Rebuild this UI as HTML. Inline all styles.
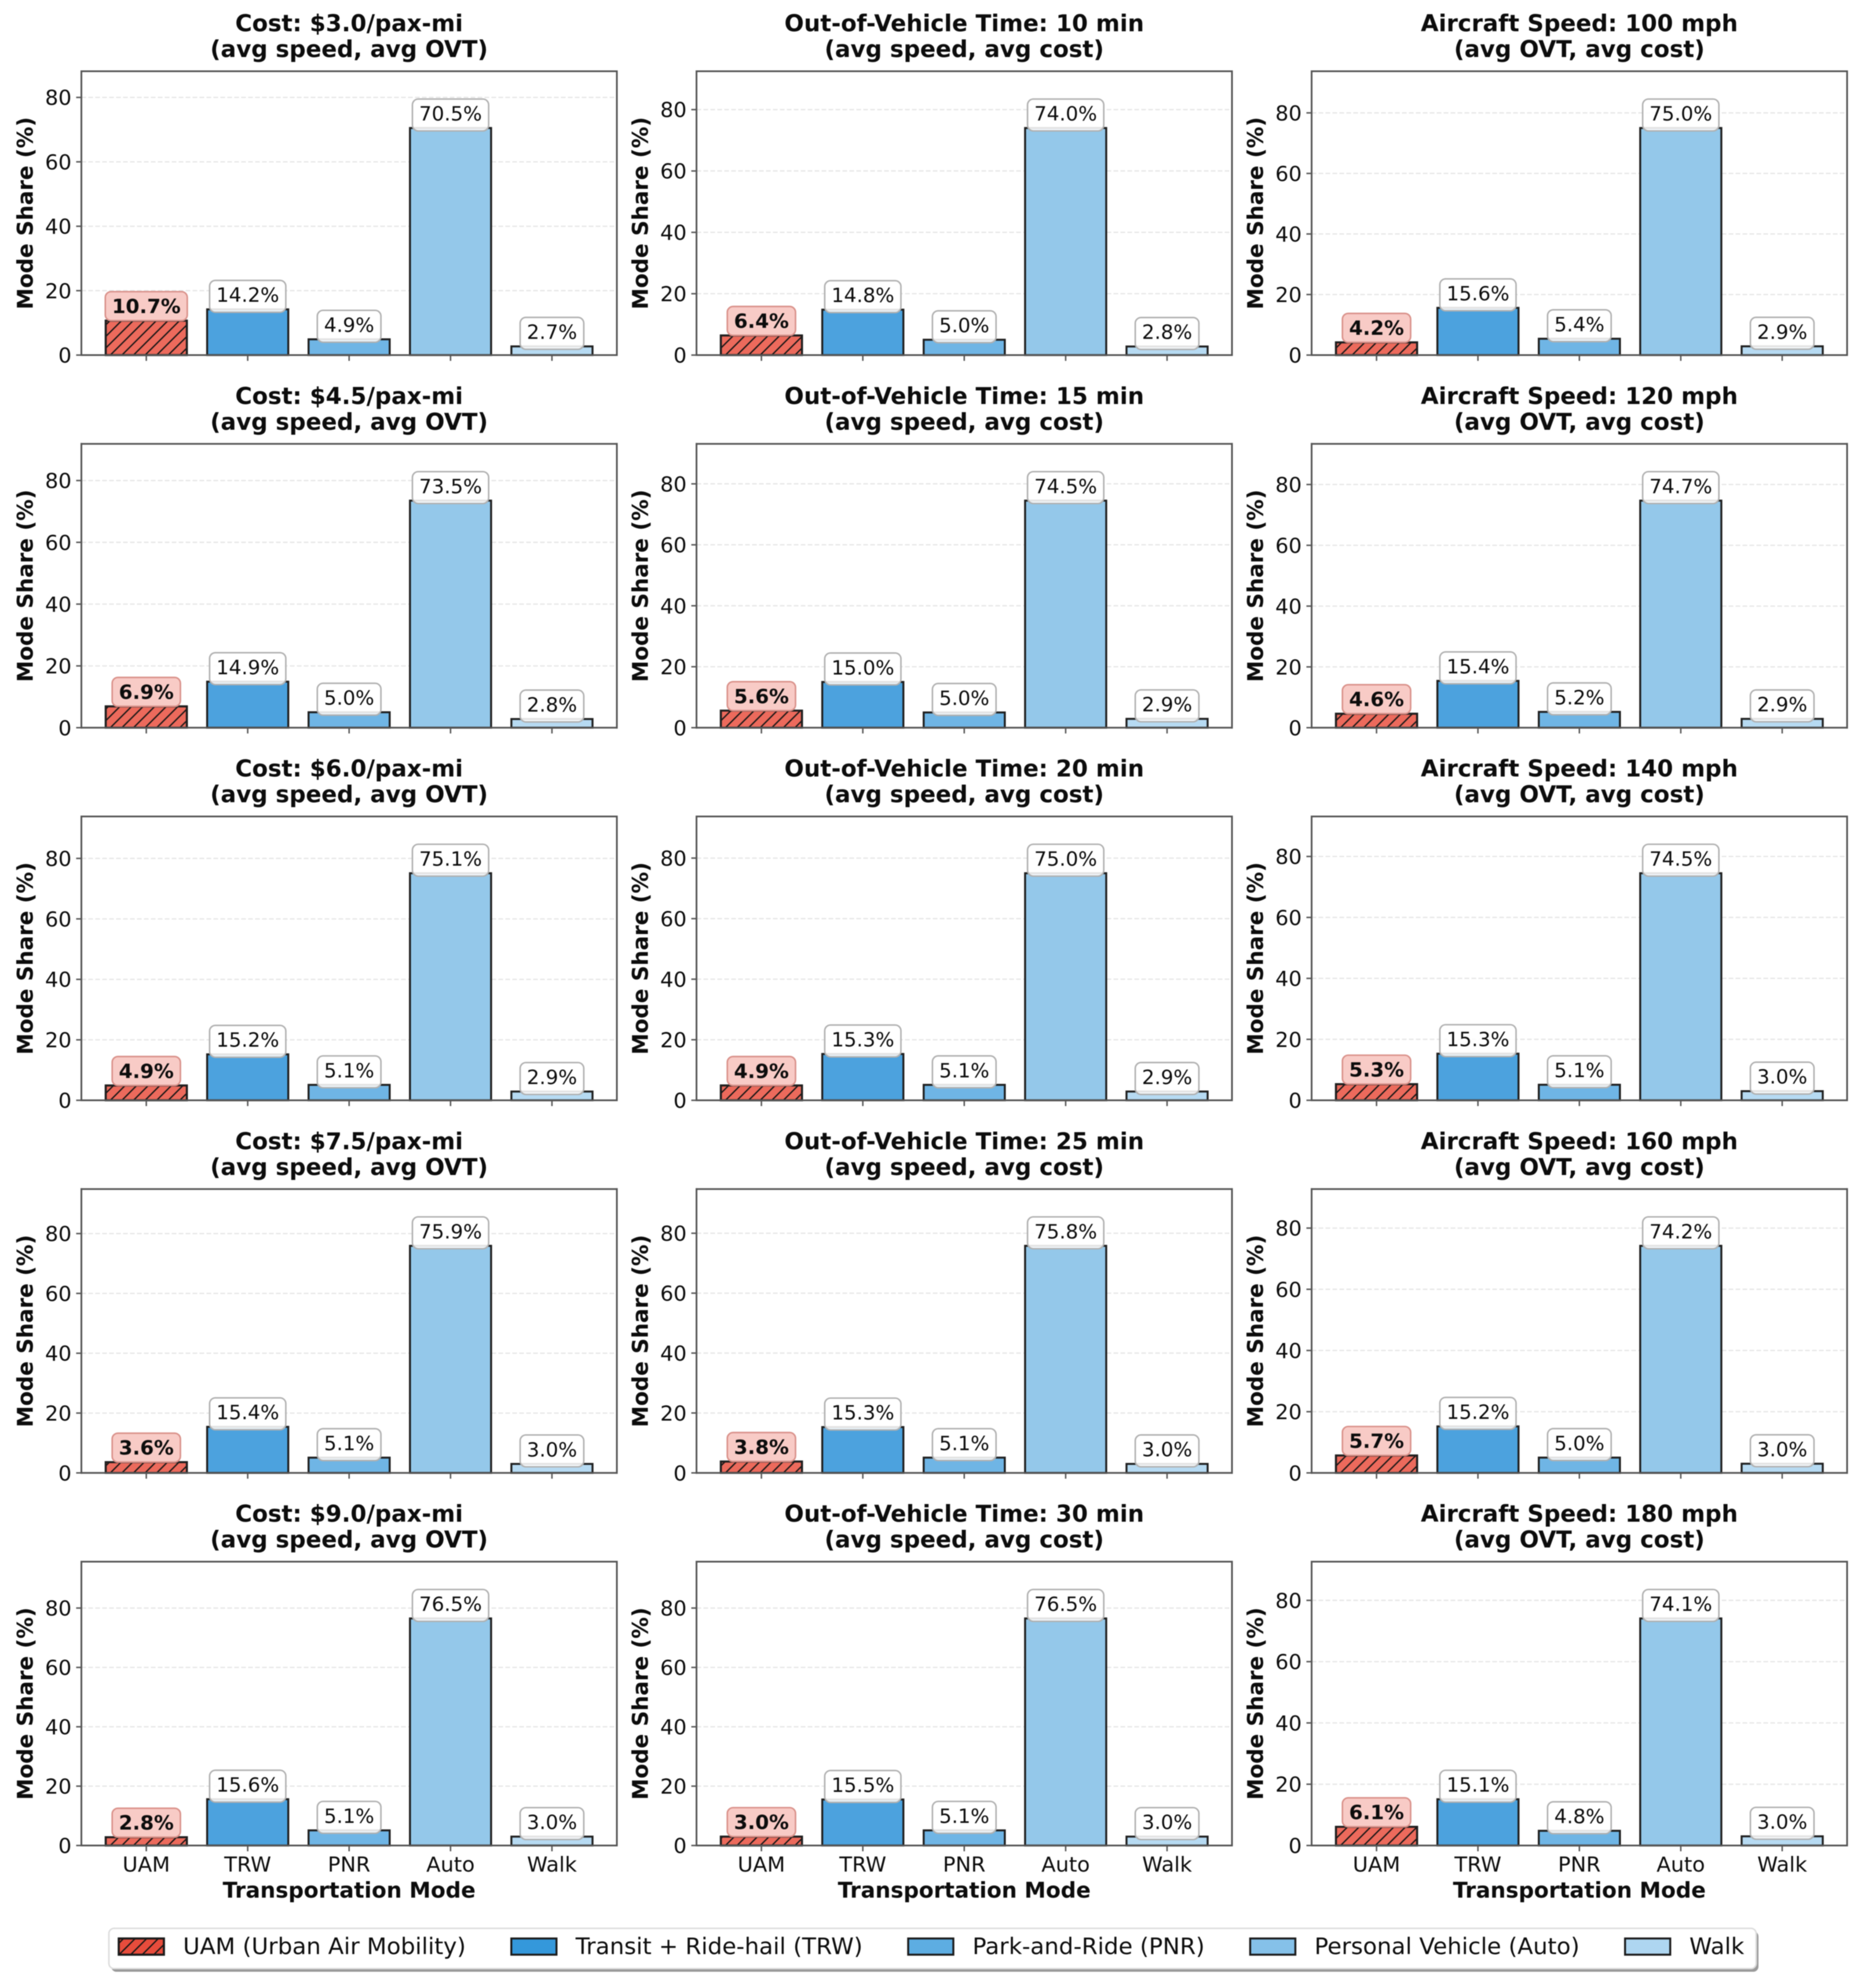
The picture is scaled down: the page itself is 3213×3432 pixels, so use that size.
<!DOCTYPE html>
<html lang="en">
<head>
<meta charset="utf-8">
<title>Mode Share Sensitivity</title>
<style>
  html, body { margin: 0; padding: 0; background: #fff; }
  svg { display: block; font-family: "DejaVu Sans", "Liberation Sans", sans-serif; filter: blur(0.9px); }
  text { fill: #0c0c0c; }
</style>
</head>
<body>
<svg id="chart" xmlns="http://www.w3.org/2000/svg" width="3213" height="3432" viewBox="0 0 3213 3432">
  <defs>
    <pattern id="hatch-bar" patternUnits="userSpaceOnUse" width="20" height="20">
      <line x1="-5" y1="25" x2="25" y2="-5" stroke="#151515" stroke-width="2.3"/>
      <line x1="-5" y1="5" x2="5" y2="-5" stroke="#151515" stroke-width="2.3"/>
      <line x1="15" y1="25" x2="25" y2="15" stroke="#151515" stroke-width="2.3"/>
    </pattern>
  </defs>
</svg>
<script>
// ---- chart data ----
const categories = ["UAM", "TRW", "PNR", "Auto", "Walk"];
const legendLabels = ["UAM (Urban Air Mobility)", "Transit + Ride-hail (TRW)", "Park-and-Ride (PNR)", "Personal Vehicle (Auto)", "Walk"];
const yTicks = [0, 20, 40, 60, 80];
const columnSubtitles = ["(avg speed, avg OVT)", "(avg speed, avg cost)", "(avg OVT, avg cost)"];
const costTitles = ["Cost: $3.0/pax-mi", "Cost: $4.5/pax-mi", "Cost: $6.0/pax-mi", "Cost: $7.5/pax-mi", "Cost: $9.0/pax-mi"];
const ovtTitles = ["Out-of-Vehicle Time: 10 min", "Out-of-Vehicle Time: 15 min", "Out-of-Vehicle Time: 20 min", "Out-of-Vehicle Time: 25 min", "Out-of-Vehicle Time: 30 min"];
const speedTitles = ["Aircraft Speed: 100 mph", "Aircraft Speed: 120 mph", "Aircraft Speed: 140 mph", "Aircraft Speed: 160 mph", "Aircraft Speed: 180 mph"];
const costShares = [
  [10.7, 14.2, 4.9, 70.5, 2.7],
  [6.9, 14.9, 5.0, 73.5, 2.8],
  [4.9, 15.2, 5.1, 75.1, 2.9],
  [3.6, 15.4, 5.1, 75.9, 3.0],
  [2.8, 15.6, 5.1, 76.5, 3.0]
];
const ovtShares = [
  [6.4, 14.8, 5.0, 74.0, 2.8],
  [5.6, 15.0, 5.0, 74.5, 2.9],
  [4.9, 15.3, 5.1, 75.0, 2.9],
  [3.8, 15.3, 5.1, 75.8, 3.0],
  [3.0, 15.5, 5.1, 76.5, 3.0]
];
const speedShares = [
  [4.2, 15.6, 5.4, 75.0, 2.9],
  [4.6, 15.4, 5.2, 74.7, 2.9],
  [5.3, 15.3, 5.1, 74.5, 3.0],
  [5.7, 15.2, 5.0, 74.2, 3.0],
  [6.1, 15.1, 4.8, 74.1, 3.0]
];

// ---- styling and layout ----
const barFills = ["#ec6a5c", "#4ca2de", "#6fb5e5", "#94c8ea", "#b6daf2"];
const legendFills = ["#e74c3c", "#3498db", "#5dade2", "#85c1e9", "#aed6f1"];
const columnTitles = [costTitles, ovtTitles, speedTitles];
const columnShares = [costShares, ovtShares, speedShares];
const AX_W = 924.5, AX_H = 490, AX_LEFT = 140.5, AX_TOP = 123, COL_STEP = 1062, ROW_STEP = 643.25;
const SVG_NS = "http://www.w3.org/2000/svg";
const svg = document.getElementById("chart");

function make(tag, attrs, parent, content) {
  const node = document.createElementNS(SVG_NS, tag);
  for (const key in attrs) node.setAttribute(key, attrs[key]);
  if (content !== undefined) node.textContent = content;
  (parent || svg).appendChild(node);
  return node;
}
function xScale(index) { return (index + 0.64) / 5.28 * AX_W; }
function yScale(value, yMax) { return AX_H - value / yMax * AX_H; }

function drawPanel(col, row) {
  const values = columnShares[col][row];
  const yMax = Math.max.apply(null, values) * 1.25;
  const left = AX_LEFT + col * COL_STEP;
  const top = AX_TOP + row * ROW_STEP;
  const panel = make("g", { transform: "translate(" + left + "," + top + ")" });
  
  

  const t1 = make("text", { x: AX_W / 2, y: -69, "text-anchor": "middle", "font-size": 39.7, "font-weight": "bold" }, panel, columnTitles[col][row]);
  
  
  const t2 = make("text", { x: AX_W / 2, y: -24.5, "text-anchor": "middle", "font-size": 39.7, "font-weight": "bold" }, panel, columnSubtitles[col]);
  
  

  yTicks.forEach(function (tick) {
    const y = yScale(tick, yMax);
    if (tick > 0) {
      const grid = make("line", { x1: 0, x2: AX_W, y1: y, y2: y, stroke: "#e4e4e4", "stroke-width": 2, "stroke-dasharray": "8 4" }, panel);
      
      
    }
    const mark = make("line", { x1: -9, x2: 0, y1: y, y2: y, stroke: "#555", "stroke-width": 2.5 }, panel);
    
    
    const label = make("text", { x: -17, y: y + 13, "text-anchor": "end", "font-size": 36 }, panel, String(tick));
    
    
  });

  const yTitle = make("text", { transform: "translate(" + (-84) + "," + (AX_H / 2) + ") rotate(-90)", "text-anchor": "middle", "font-size": 37.1, "font-weight": "bold" }, panel, "Mode Share (%)");
  
  

  values.forEach(function (value, i) {
    const cx = xScale(i);
    const w = 0.8 / 5.28 * AX_W;
    const y = yScale(value, yMax);
    const bar = make("rect", { x: cx - w / 2, y: y, width: w, height: AX_H - y, fill: barFills[i], stroke: "#1f1f1f", "stroke-width": 3.4 }, panel);
    
    
    if (i === 0) {
      const hatch = make("rect", { x: cx - w / 2, y: y, width: w, height: AX_H - y, fill: "url(#hatch-bar)", stroke: "#1f1f1f", "stroke-width": 3.4 }, panel);
      
      
    }
  });

  [[0, AX_W, 0, 0], [0, AX_W, AX_H, AX_H], [0, 0, 0, AX_H], [AX_W, AX_W, 0, AX_H]].forEach(function (s) {
    const spine = make("line", { x1: s[0], x2: s[1], y1: s[2], y2: s[3], stroke: "#555", "stroke-width": 3, "stroke-linecap": "square" }, panel);
    
    
  });

  categories.forEach(function (name, i) {
    const cx = xScale(i);
    const mark = make("line", { x1: cx, x2: cx, y1: AX_H, y2: AX_H + 10, stroke: "#555", "stroke-width": 2.5 }, panel);
    
    
    if (row === 4) {
      const label = make("text", { x: cx, y: AX_H + 45, "text-anchor": "middle", "font-size": 36 }, panel, name);
      
      
    }
  });
  if (row === 4) {
    const xTitle = make("text", { x: AX_W / 2, y: AX_H + 90, "text-anchor": "middle", "font-size": 37.2, "font-weight": "bold" }, panel, "Transportation Mode");
    
    
  }

  values.forEach(function (value, i) {
    const cx = xScale(i);
    const y = yScale(value, yMax);
    const isUam = i === 0;
    const group = make("g", {}, panel);
    
    
    const box = make("rect", {
      y: y - 50,
      height: isUam ? 50 : 55,
      rx: 10, ry: 10,
      fill: isUam ? "#f8c8c3" : "#ffffff",
      "fill-opacity": isUam ? 0.95 : 0.88,
      stroke: isUam ? "#d99089" : "#b0b0b0",
      "stroke-width": 2.6
    }, group);
    const label = make("text", {
      x: cx, y: y - 13, "text-anchor": "middle", "font-size": 34.2,
      "font-weight": isUam ? "bold" : "normal"
    }, group, value.toFixed(1) + "%");
    const textW = label.getComputedTextLength();
    box.setAttribute("x", cx - textW / 2 - 11.5);
    box.setAttribute("width", textW + 23);
  });
}

columnShares.forEach(function (rows, col) {
  rows.forEach(function (_, row) { drawPanel(col, row); });
});

// ---- legend ----
const legend = make("g", {});


const legendShadow = make("rect", { x: 192, y: 3334, width: 2844, height: 70, rx: 9, fill: "#9a9a9a" }, legend);


const legendFrame = make("rect", { x: 188, y: 3329, width: 2844, height: 69.5, rx: 9, fill: "#fff", stroke: "#dcdcdc", "stroke-width": 2.6 }, legend);


let cursor = 203.5;
legendLabels.forEach(function (name, i) {
  const entry = make("g", {}, legend);
  
  
  make("rect", { x: cursor + 1.5, y: 3346.5, width: 78, height: 28, fill: legendFills[i], stroke: "#1a1a1a", "stroke-width": 3.4 }, entry);
  if (i === 0) make("rect", { x: cursor + 1.5, y: 3346.5, width: 78, height: 28, fill: "url(#hatch-bar)", stroke: "#1a1a1a", "stroke-width": 3.4 }, entry);
  const label = make("text", { x: cursor + 112.5, y: 3373.5, "font-size": 39.6 }, entry, name);
  cursor += 112.5 + label.getComputedTextLength() + 77;
});
</script>
</body>
</html>
